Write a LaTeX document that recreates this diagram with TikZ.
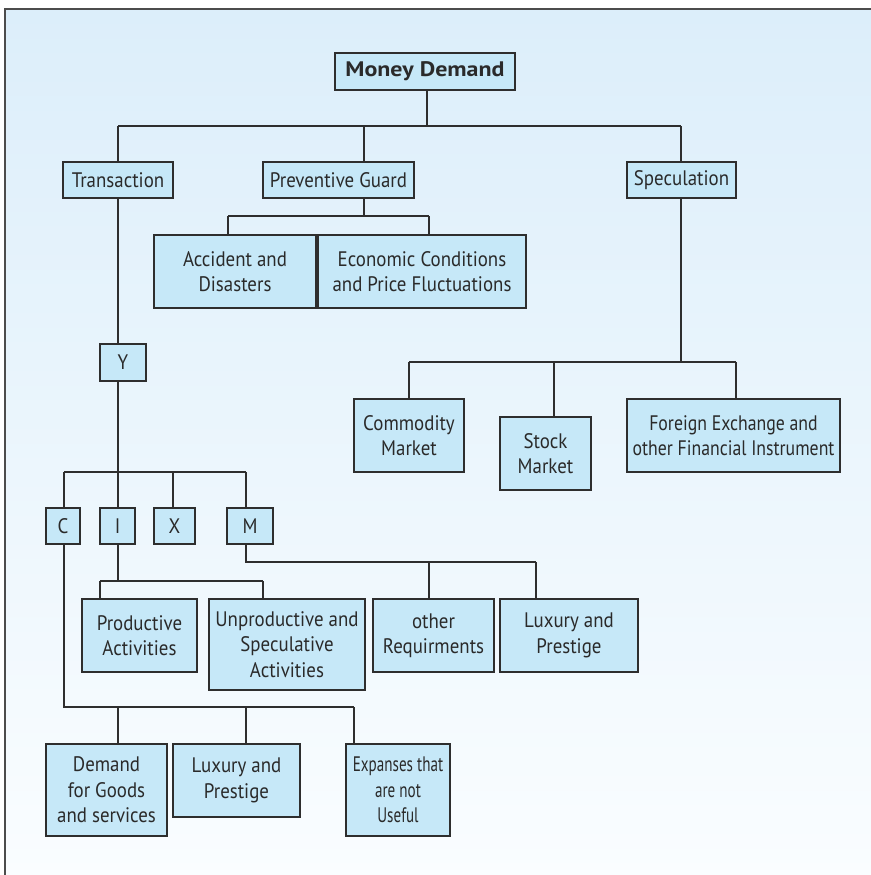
\documentclass[tikz,border=0pt]{standalone}
\usepackage{graphicx}
\usepackage{fontspec}
\setmainfont[FakeStretch=0.9]{PT Sans}
\newfontfamily\mdfont[FakeStretch=1.14]{PT Sans}
\definecolor{bgtop}{HTML}{DCEEFA}
\definecolor{bgbot}{HTML}{FAFDFF}
\definecolor{boxfill}{HTML}{C6E8F8}
\definecolor{linec}{HTML}{2E2E2E}
\definecolor{textc}{HTML}{2A2A2A}
\tikzset{
  box/.style={draw=linec, line width=1.2pt, fill=boxfill, inner sep=0pt, align=center,
    font=\fontsize{21}{25.5}\selectfont, text=textc},
  conn/.style={draw=linec, line width=1.2pt}
}
\newcommand{\mybox}[6]{\node[box,minimum width={#4-#2},minimum height={#5-#3}] (#1) at ({(#2+#4)/2},{(#3+#5)/2}) {#6};}
\newcommand{\sq}[2]{\scalebox{#1}[1]{#2}}
\begin{document}
\begin{tikzpicture}[x=1pt,y=-1pt]
\useasboundingbox (0,0) rectangle (870,875);
\shade[top color=bgtop, bottom color=bgbot] (5,9) rectangle (872,877);
\draw[draw=black!70, line width=1.2pt] (5,877) -- (5,9) -- (872,9);
% level 0
\mybox{md}{335}{53}{515}{90}{\mdfont\bfseries Money Demand}
% level 1
\mybox{tran}{63}{162}{173}{198}{Transaction}
\mybox{pg}{263}{162}{414}{198}{Preventive Guard}
\mybox{spec}{627}{162}{736}{198}{Speculation}
\coordinate (mdj) at (427,126);
\coordinate (tl) at (118,126);
\coordinate (pgx) at (364,126);
\coordinate (tr) at (681,126);
\draw[conn] (md.south -| mdj) -- (mdj);
\draw[conn] (tl) -- (tr);
\draw[conn] (tl) -- (tran.north -| tl);
\draw[conn] (pgx) -- (pg.north -| pgx);
\draw[conn] (tr) -- (spec.north -| tr);
% preventive guard children
\mybox{acc}{154}{235}{316}{308}{Accident and\\Disasters}
\mybox{eco}{318}{235}{526}{308}{Economic Conditions\\and Price Fluctuations}
\coordinate (pgj) at (364,216);
\coordinate (pga) at (228,216);
\coordinate (pgb) at (429,216);
\draw[conn] (pg.south -| pgj) -- (pgj);
\draw[conn] (pga) -- (pgb);
\draw[conn] (pga) -- (acc.north -| pga);
\draw[conn] (pgb) -- (eco.north -| pgb);
% Y
\mybox{y}{100}{344}{146}{381}{Y}
\draw[conn] (tran.south -| tl) -- (y.north -| tl);
\mybox{c}{46}{508}{80}{544}{C}
\mybox{i}{100}{508}{135}{544}{I}
\mybox{x}{154}{508}{195}{544}{X}
\mybox{m}{227}{508}{273}{544}{M}
\coordinate (yj) at (118,472);
\coordinate (ya) at (64,472);
\coordinate (yx) at (173,472);
\coordinate (yb) at (246,472);
\draw[conn] (y.south -| yj) -- (yj);
\draw[conn] (ya) -- (yb);
\draw[conn] (ya) -- (c.north -| ya);
\draw[conn] (yj) -- (i.north -| yj);
\draw[conn] (yx) -- (x.north -| yx);
\draw[conn] (yb) -- (m.north -| yb);
% M children
\mybox{oreq}{373}{599}{494}{672}{other\\Requirments}
\mybox{luxa}{500}{599}{638}{672}{Luxury and\\Prestige}
\coordinate (mj) at (246,562);
\coordinate (mc) at (429,562);
\coordinate (mb) at (536,562);
\draw[conn] (m.south -| mj) -- (mj) -- (mb);
\draw[conn] (mc) -- (oreq.north -| mc);
\draw[conn] (mb) -- (luxa.north -| mb);
% I children
\mybox{prod}{82}{599}{197}{672}{Productive\\Activities}
\mybox{unprod}{209}{599}{365}{690}{Unproductive and\\Speculative\\Activities}
\coordinate (ij) at (118,581);
\coordinate (ia) at (100,581);
\coordinate (ib) at (263,581);
\draw[conn] (i.south -| ij) -- (ij);
\draw[conn] (ia) -- (ib);
\draw[conn] (ia) -- (prod.north -| ia);
\draw[conn] (ib) -- (unprod.north -| ib);
% C children
\mybox{dem}{46}{744}{167}{836}{Demand\\for Goods\\and services}
\mybox{luxb}{173}{744}{300}{817}{Luxury and\\Prestige}
\mybox{exp}{346}{744}{450}{836}{\sq{0.8}{Expanses that}\\\sq{0.8}{are not}\\\sq{0.8}{Useful}}
\coordinate (cj) at (64,707);
\coordinate (ca) at (118,707);
\coordinate (cm) at (246,707);
\coordinate (cb) at (354,707);
\draw[conn] (c.south -| cj) -- (cj) -- (cb);
\draw[conn] (ca) -- (dem.north -| ca);
\draw[conn] (cm) -- (luxb.north -| cm);
\draw[conn] (cb) -- (exp.north -| cb);
% Speculation children
\mybox{com}{354}{399}{464}{472}{Commodity\\Market}
\mybox{stock}{500}{417}{591}{490}{Stock\\Market}
\mybox{forex}{627}{399}{840}{472}{\sq{0.94}{Foreign Exchange and}\\\sq{0.94}{other Financial Instrument}}
\coordinate (sj) at (681,362);
\coordinate (sa) at (409,362);
\coordinate (sc) at (554,362);
\coordinate (sb) at (736,362);
\draw[conn] (spec.south -| sj) -- (sj);
\draw[conn] (sa) -- (sb);
\draw[conn] (sa) -- (com.north -| sa);
\draw[conn] (sc) -- (stock.north -| sc);
\draw[conn] (sb) -- (forex.north -| sb);
\end{tikzpicture}
\end{document}
